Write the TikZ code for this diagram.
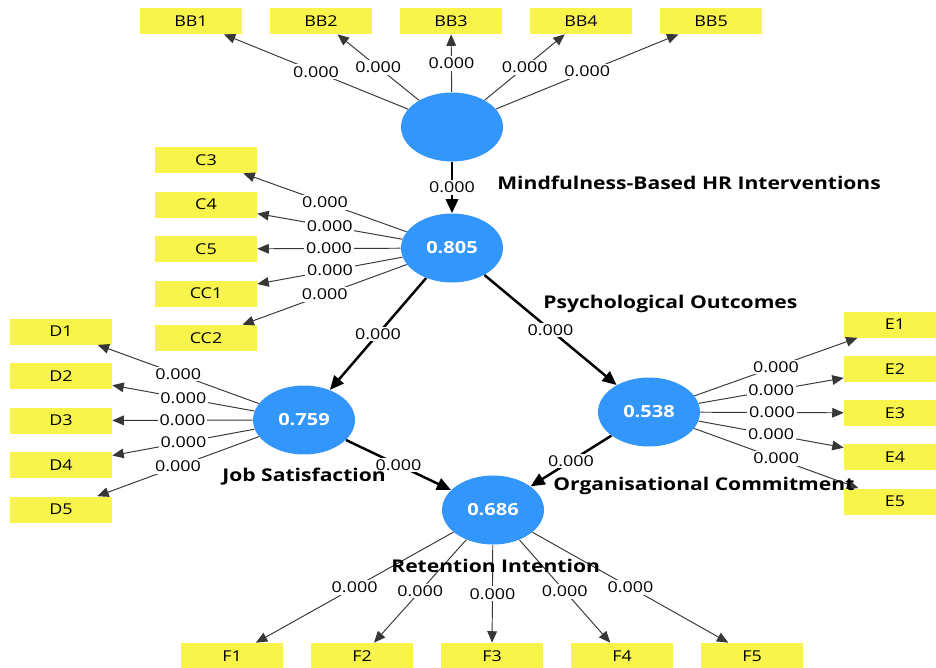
\documentclass[tikz,border=0pt]{standalone}
\usepackage{fontspec}
\newfontfamily\plsfont[FakeStretch=1.2]{Open Sans}
\usepackage{xcolor}
\usepackage{tikz}
\usetikzlibrary{positioning, shapes, arrows.meta, calc}

\definecolor{lvblue}{RGB}{51,150,250}
\definecolor{mvyellow}{RGB}{248,244,76}
\definecolor{loadgray}{RGB}{55,55,55}

\begin{document}
\begin{tikzpicture}[x=0.02cm, y=-0.02cm,
      latent/.style={ellipse, fill=lvblue, minimum width=2.04cm, minimum height=1.38cm, inner sep=0pt, text=white, font=\plsfont\bfseries\fontsize{9.5}{11}\selectfont},
      indicator/.style={rectangle, fill=mvyellow, minimum width=2.04cm, minimum height=0.52cm, inner sep=0pt, font=\plsfont\fontsize{8.5}{10}\selectfont},
      loading/.style={draw=loadgray, line width=0.55pt, -{Triangle[length=6.5pt, width=5.5pt]}},
      structural/.style={draw=black, line width=1.4pt, -{Triangle[length=8pt, width=7pt]}},
      pval/.style={fill=white, inner sep=1pt, font=\plsfont\fontsize{8.5}{10}\selectfont},
      lvname/.style={anchor=west, inner sep=0pt, font=\plsfont\bfseries\fontsize{10}{12}\selectfont}]

      \useasboundingbox (0,0) rectangle (936,667);
      \clip (0,0) rectangle (936,667);

      % Latent variables
      \node[latent] (mbhri) at (452,127) {};
      \node[latent] (po) at (452,248) {0.805};
      \node[latent] (js) at (304,420) {0.759};
      \node[latent] (oc) at (649,412) {0.538};
      \node[latent] (ri) at (493,510) {0.686};

      % Indicators
      \node[indicator] (bb1) at (191,21) {BB1};
      \node[indicator] (bb2) at (321,21) {BB2};
      \node[indicator] (bb3) at (451,21) {BB3};
      \node[indicator] (bb4) at (581,21) {BB4};
      \node[indicator] (bb5) at (711,21) {BB5};

      \node[indicator] (c3) at (206,160) {C3};
      \node[indicator] (c4) at (206,204.5) {C4};
      \node[indicator] (c5) at (206,249) {C5};
      \node[indicator] (cc1) at (206,293.5) {CC1};
      \node[indicator] (cc2) at (206,338) {CC2};

      \node[indicator] (d1) at (61,331.5) {D1};
      \node[indicator] (d2) at (61,376) {D2};
      \node[indicator] (d3) at (61,420.5) {D3};
      \node[indicator] (d4) at (61,465) {D4};
      \node[indicator] (d5) at (61,509.5) {D5};

      \node[indicator] (e1) at (895,324.5) {E1};
      \node[indicator] (e2) at (895,369) {E2};
      \node[indicator] (e3) at (895,413) {E3};
      \node[indicator] (e4) at (895,457) {E4};
      \node[indicator] (e5) at (895,501.5) {E5};

      \node[indicator] (f1) at (232,656) {F1};
      \node[indicator] (f2) at (362,656) {F2};
      \node[indicator] (f3) at (492,656) {F3};
      \node[indicator] (f4) at (622,656) {F4};
      \node[indicator] (f5) at (752,656) {F5};

      % Outer loadings
      \draw[loading] (mbhri) -- node[pval] {0.000} (bb1);
      \draw[loading] (mbhri) -- node[pval] {0.000} (bb2);
      \draw[loading] (mbhri) -- node[pval] {0.000} (bb3);
      \draw[loading] (mbhri) -- node[pval] {0.000} (bb4);
      \draw[loading] (mbhri) -- node[pval] {0.000} (bb5);

      \draw[loading] (po) -- node[pval] {0.000} (c3);
      \draw[loading] (po) -- node[pval] {0.000} (c4);
      \draw[loading] (po) -- node[pval] {0.000} (c5);
      \draw[loading] (po) -- node[pval] {0.000} (cc1);
      \draw[loading] (po) -- node[pval] {0.000} (cc2);

      \draw[loading] (js) -- node[pval] {0.000} (d1);
      \draw[loading] (js) -- node[pval] {0.000} (d2);
      \draw[loading] (js) -- node[pval] {0.000} (d3);
      \draw[loading] (js) -- node[pval] {0.000} (d4);
      \draw[loading] (js) -- node[pval] {0.000} (d5);

      \draw[loading] (oc) -- node[pval] {0.000} (e1);
      \draw[loading] (oc) -- node[pval] {0.000} (e2);
      \draw[loading] (oc) -- node[pval] {0.000} (e3);
      \draw[loading] (oc) -- node[pval] {0.000} (e4);
      \draw[loading] (oc) -- node[pval] {0.000} (e5);

      \draw[loading] (ri) -- node[pval] {0.000} (f1);
      \draw[loading] (ri) -- node[pval] {0.000} (f2);
      \draw[loading] (ri) -- node[pval] {0.000} (f3);
      \draw[loading] (ri) -- node[pval] {0.000} (f4);
      \draw[loading] (ri) -- node[pval] {0.000} (f5);

      % Inner paths
      \draw[structural] (mbhri) -- node[pval] {0.000} (po);
      \draw[structural] (po) -- node[pval] {0.000} (js);
      \draw[structural] (po) -- node[pval] {0.000} (oc);
      \draw[structural] (js) -- node[pval] {0.000} (ri);
      \draw[structural] (oc) -- node[pval] {0.000} (ri);

      % Construct names
      \node[lvname] (mbhriname) at (497,183) {Mindfulness-Based HR Interventions};
      \node[lvname] (poname) at (543,304) {Psychological Outcomes};
      \node[lvname] (jsname) at (222,477) {Job Satisfaction};
      \node[lvname] (ocname) at (553,486) {Organisational Commitment};
      \node[lvname] (riname) at (391,566) {Retention Intention};
    \end{tikzpicture}
\end{document}
